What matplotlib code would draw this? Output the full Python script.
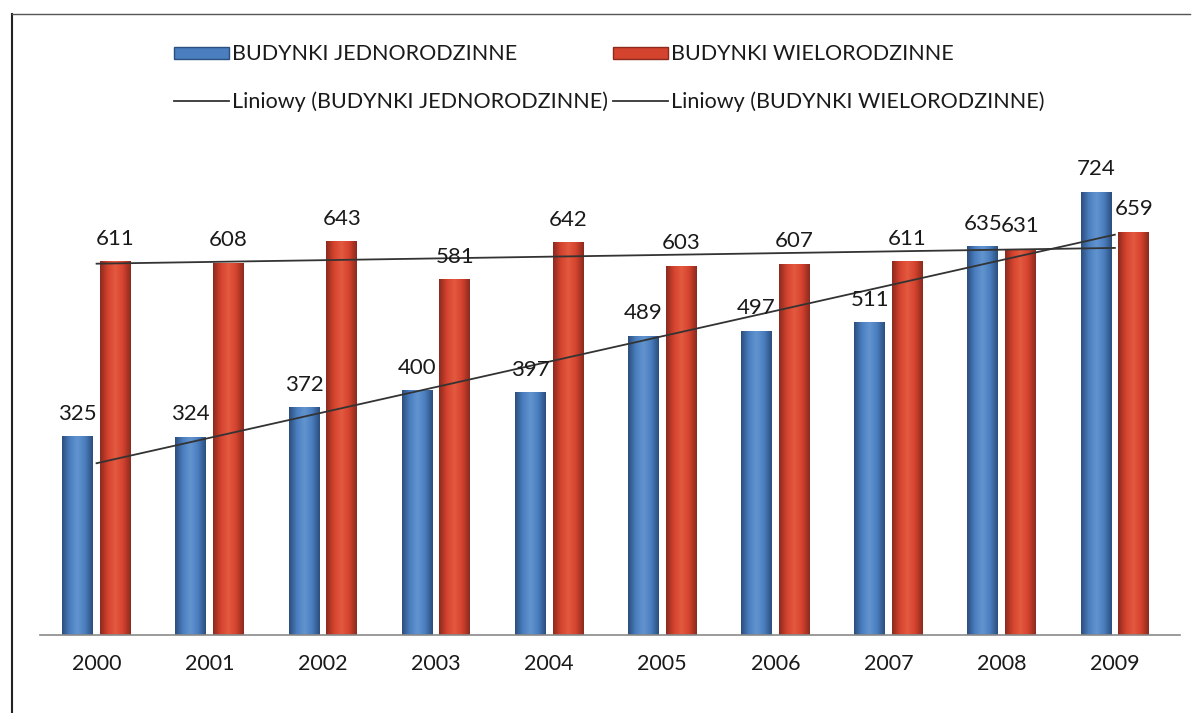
import numpy as np
import matplotlib
matplotlib.use("Agg")
import matplotlib.pyplot as plt
from matplotlib.colors import LinearSegmentedColormap
from matplotlib.lines import Line2D
from matplotlib.patches import Patch

plt.rcParams['font.family'] = ['Lato', 'DejaVu Sans']

years = ["2000", "2001", "2002", "2003", "2004", "2005", "2006", "2007", "2008", "2009"]
jednorodzinne = [325, 324, 372, 400, 397, 489, 497, 511, 635, 724]
wielorodzinne = [611, 608, 643, 581, 642, 603, 607, 611, 631, 659]

label_j = "BUDYNKI JEDNORODZINNE"
label_w = "BUDYNKI WIELORODZINNE"
trend_j = "Liniowy (BUDYNKI JEDNORODZINNE)"
trend_w = "Liniowy (BUDYNKI WIELORODZINNE)"

W, H = 1194, 713
fig = plt.figure(figsize=(W / 100, H / 100), dpi=100)
fig.patch.set_facecolor("white")

ax_left, ax_right = 40, 1180
ax_top, ax_bot = 145, 635
ax = fig.add_axes([ax_left / W, (H - ax_bot) / H, (ax_right - ax_left) / W, (ax_bot - ax_top) / H])

x = np.arange(len(years))
bw = 0.272
off = 0.167

cmap_b = LinearSegmentedColormap.from_list("b", ["#2b4f7e", "#4a7ebf", "#6294cf", "#4a7ebf", "#2b4f7e"])
cmap_r = LinearSegmentedColormap.from_list("r", ["#8c2a1e", "#d4432e", "#e45a40", "#d4432e", "#8c2a1e"])

bars_b = ax.bar(x - off, jednorodzinne, bw, color="#4a7ebf", zorder=2)
bars_r = ax.bar(x + off, wielorodzinne, bw, color="#d4432e", zorder=2)

grad = np.linspace(0, 1, 64).reshape(1, -1)
for bars, cm in ((bars_b, cmap_b), (bars_r, cmap_r)):
    for b in bars:
        x0, w, h = b.get_x(), b.get_width(), b.get_height()
        im = ax.imshow(grad, cmap=cm, aspect="auto", extent=(x0, x0 + w, 0, h),
                       zorder=2.1, interpolation="bicubic")
        im.set_clip_path(b)

# linear trend lines
for vals in (jednorodzinne, wielorodzinne):
    k, c = np.polyfit(x, vals, 1)
    ax.plot([x[0], x[-1]], [c + k * x[0], c + k * x[-1]], color="#333333", lw=1.3, zorder=3)

for xi, v in zip(x, jednorodzinne):
    ax.annotate(str(v), (xi - off, v), xytext=(0, 9), textcoords="offset points",
                ha="center", va="bottom", fontsize=16, color="#1a1a1a", zorder=4)
for xi, v in zip(x, wielorodzinne):
    ax.annotate(str(v), (xi + off, v), xytext=(0, 9), textcoords="offset points",
                ha="center", va="bottom", fontsize=16, color="#1a1a1a", zorder=4)

ax.set_xlim(-0.5, 9.576)
ax.set_ylim(0, (ax_bot - ax_top) / 0.612)
ax.set_xticks(x)
ax.set_xticklabels(years, fontsize=15.5, color="#1a1a1a")
ax.tick_params(axis="x", length=0, pad=14)
ax.set_yticks([])
for s in ("top", "right", "left"):
    ax.spines[s].set_visible(False)
ax.spines["bottom"].set_color("#8a8a8a")
ax.spines["bottom"].set_linewidth(1.2)
ax.patch.set_alpha(0)

handles = [Patch(facecolor="#4a7ebf", edgecolor="#2b4f7e", label=label_j),
           Line2D([], [], color="#333333", lw=1.3, label=trend_j),
           Patch(facecolor="#d4432e", edgecolor="#8c2a1e", label=label_w),
           Line2D([], [], color="#333333", lw=1.3, label=trend_w)]
leg = fig.legend(handles=handles, loc="upper left", bbox_to_anchor=(155 / W, 1 - 25 / H),
                 ncol=2, frameon=False, fontsize=15.5, handlelength=2.55, handleheight=0.5,
                 handletextpad=0.15, columnspacing=0.2, labelspacing=1.25)
for t in leg.get_texts():
    t.set_color("#1a1a1a")

# outer frame (left and top)
fig.add_artist(Line2D([12 / W, 12 / W], [0, 1 - 14 / H], transform=fig.transFigure, color="#222222", lw=1.5))
fig.add_artist(Line2D([12 / W, 1190 / W], [1 - 14 / H, 1 - 14 / H], transform=fig.transFigure, color="#555555", lw=1.0))

fig.savefig("out.png", dpi=100)
